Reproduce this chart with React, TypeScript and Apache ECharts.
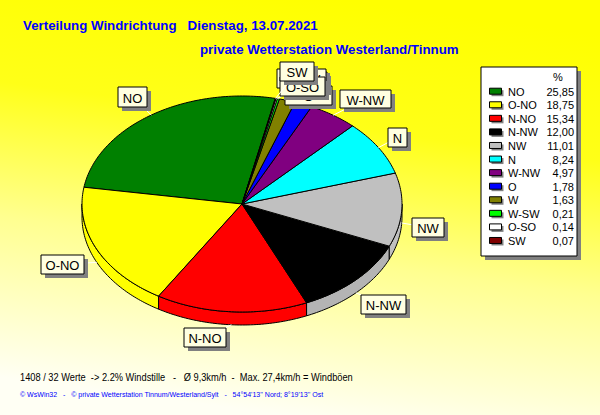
import React, { useEffect, useRef } from "react";
import * as echarts from "echarts";

// ---------- texts ----------
const titleLine1 = "Verteilung Windrichtung   Dienstag, 13.07.2021";
const titleLine2 = "private Wetterstation Westerland/Tinnum";
const footerLine1 = "1408 / 32 Werte  -> 2.2% Windstille   -   Ø 9,3km/h  -  Max. 27,4km/h = Windböen";
const footerLine2 = "© WsWin32   -   © private Wetterstation Tinnum/Westerland/Sylt   -   54°54'13'' Nord; 8°19'13'' Ost";
const legendUnit = "%";

// ---------- data ----------
const directions = ["NO", "O-NO", "N-NO", "N-NW", "NW", "N", "W-NW", "O", "W", "W-SW", "O-SO", "SW"];
const percents = [25.85, 18.75, 15.34, 12.0, 11.01, 8.24, 4.97, 1.78, 1.63, 0.21, 0.14, 0.07];
const sliceColors = ["#008000", "#FFFF00", "#FF0000", "#000000", "#C0C0C0", "#00FFFF", "#800080", "#0000FF", "#808000", "#00FF00", "#FFFFFF", "#800000"];

// ---------- layout ----------
const CX = 242, CY = 204, RX = 160, RY = 108, DEPTH = 13, START_DEG = 78;
const LABEL_BOXES: [number, number, number, number][] = [
  [118, 87, 29, 20],
  [41, 255, 43, 19],
  [184, 328, 42, 19],
  [361, 295, 45, 19],
  [412, 218, 32, 19],
  [388, 128, 19, 19],
  [340, 90, 51, 18],
  [285, 86, 47, 19],
  [289, 72, 38, 19],
  [277, 69, 49, 19],
  [280, 77, 45, 19],
  [280, 62, 34, 19],
];
const FONT = '"Liberation Sans", Arial, sans-serif';

const total = percents.reduce((a, b) => a + b, 0);
const cumStarts = percents.map((_, i) => percents.slice(0, i).reduce((a, b) => a + b, 0));

function pt(deg: number, dy = 0): number[] {
  const r = (deg * Math.PI) / 180;
  return [CX + RX * Math.cos(r), CY - RY * Math.sin(r) + dy];
}
function arc(a0: number, a1: number, dy = 0): number[][] {
  const n = Math.max(2, Math.ceil(Math.abs(a1 - a0) / 1) + 1);
  const out: number[][] = [];
  for (let k = 0; k < n; k++) out.push(pt(a0 + ((a1 - a0) * k) / (n - 1), dy));
  return out;
}
function sideColor(i: number) {
  return sliceColors[i] === "#000000" ? "#B4B4B4" : sliceColors[i];
}

export default function App() {
  const ref = useRef<HTMLDivElement>(null);
  useEffect(() => {
    document.body.style.margin = "0";
    const chart = echarts.init(ref.current!, null, { renderer: "svg" });

    const pieRender = (params: any, api: any) => {
      const i = params.dataIndex;
      const v = api.value(0) as number;
      const s = api.value(1) as number;
      const a0 = START_DEG + (s / total) * 360;
      const a1 = a0 + (v / total) * 360;
      const children: any[] = [];
      const lo = Math.max(a0, 180), hi = Math.min(a1, 360);
      if (hi > lo) {
        const top = arc(lo, hi, 0);
        const bot = arc(lo, hi, DEPTH).reverse();
        children.push({
          type: "polygon",
          shape: { points: top.concat(bot) },
          style: { fill: sideColor(i), stroke: "#000", lineWidth: 1 },
        });
      }
      children.push({
        type: "polygon",
        shape: { points: [[CX, CY]].concat(arc(a0, a1, 0)) },
        style: { fill: sliceColors[i], stroke: "#000", lineWidth: 1, lineJoin: "round" },
      });
      return { type: "group", children };
    };

    const labelRender = (params: any, api: any) => {
      const i = params.dataIndex;
      const v = api.value(0) as number;
      const s = api.value(1) as number;
      const a0 = START_DEG + (s / total) * 360;
      const a1 = a0 + (v / total) * 360;
      const mid = ((a0 + a1) / 2) * Math.PI / 180;
      const sn = Math.sin(mid);
      const ex = CX + RX * Math.cos(mid);
      const ey = CY - RY * sn + (sn < 0 ? DEPTH : 0);
      const [bx, by, bw, bh] = LABEL_BOXES[i];
      return {
        type: "group",
        children: [
          { type: "line", shape: { x1: ex, y1: ey, x2: bx + bw / 2, y2: by + bh / 2 }, style: { stroke: "#FFFFFF", lineWidth: 1 } },
          { type: "rect", shape: { x: bx + 4, y: by + 4, width: bw, height: bh }, style: { fill: "#808080" } },
          { type: "rect", shape: { x: bx, y: by, width: bw, height: bh }, style: { fill: "#FFFFE1", stroke: "#000", lineWidth: 1 } },
          {
            type: "text",
            style: {
              x: bx + bw / 2, y: by + bh / 2 + 1, text: directions[i],
              align: "center", verticalAlign: "middle",
              fill: "#000", font: `13px ${FONT}`,
            },
          },
        ],
      };
    };

    const data = percents.map((v, i) => [v, cumStarts[i]]);

    // legend graphics
    const LX = 481, LY = 67, LW = 96, LH = 189;
    const rowY0 = 91.7, rowStep = 13.57;
    const legendEls: any[] = [
      { type: "rect", shape: { x: LX + 4, y: LY + 4, width: LW, height: LH }, style: { fill: "#808080" } },
      { type: "rect", shape: { x: LX, y: LY, width: LW, height: LH }, style: { fill: "#FFFFFF", stroke: "#000", lineWidth: 1 } },
      { type: "text", style: { x: 558, y: 77, text: legendUnit, align: "center", verticalAlign: "middle", fill: "#000", font: `11px ${FONT}` } },
    ];
    directions.forEach((d, i) => {
      const y = rowY0 + i * rowStep;
      legendEls.push(
        { type: "rect", shape: { x: 491.5, y: y - 1.5, width: 12, height: 6 }, style: { fill: "#808080" } },
        { type: "rect", shape: { x: 489.5, y: y - 3.5, width: 12, height: 6 }, style: { fill: sliceColors[i], stroke: "#000", lineWidth: 1 } },
        { type: "text", style: { x: 508, y, text: d, align: "left", verticalAlign: "middle", fill: "#000", font: `11px ${FONT}` } },
        { type: "text", style: { x: 574, y, text: percents[i].toFixed(2).replace(".", ","), align: "right", verticalAlign: "middle", fill: "#000", font: `11px ${FONT}` } },
      );
    });

    const option: any = {
      animation: false,
      backgroundColor: new echarts.graphic.LinearGradient(340, 0, 285, 415, [
        { offset: 0, color: "#FFFF00" },
        { offset: 0.3, color: "#FFFF18" },
        { offset: 0.62, color: "#FFFF90" },
        { offset: 1, color: "#FFFFF4" },
      ], true),
      graphic: [
        { type: "text", x: 23, y: 25, style: { x: 0, y: 0, text: titleLine1, fill: "#0000FF", font: `bold 13.3px ${FONT}`, align: "left", verticalAlign: "middle" } },
        { type: "text", x: 200, y: 49, style: { x: 0, y: 0, text: titleLine2, fill: "#0000FF", font: `bold 13.3px ${FONT}`, align: "left", verticalAlign: "middle" } },
        { type: "text", x: 20, y: 377, scaleX: 0.843, style: { x: 0, y: 0, text: footerLine1, fill: "#000", font: `11px ${FONT}`, align: "left", verticalAlign: "middle" } },
        { type: "text", x: 20, y: 394.5, scaleX: 0.88, style: { x: 0, y: 0, text: footerLine2, fill: "#0000FF", font: `8px ${FONT}`, align: "left", verticalAlign: "middle" } },
        { type: "group", z: 10, children: legendEls },
      ],
      series: [
        { type: "custom", coordinateSystem: "none", renderItem: pieRender, data, z: 2 },
        { type: "custom", coordinateSystem: "none", renderItem: labelRender, data, z: 3 },
      ],
    };
    chart.setOption(option);
    return () => chart.dispose();
  }, []);
  return <div ref={ref} style={{ width: 600, height: 415 }} />;
}
